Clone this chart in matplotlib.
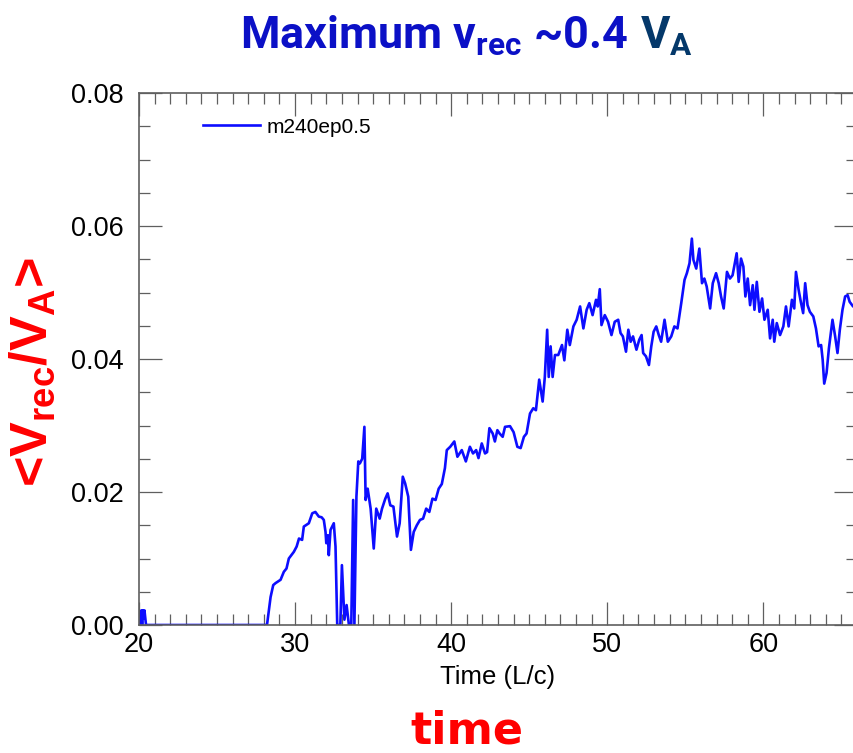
import matplotlib
matplotlib.use("Agg")
import matplotlib.pyplot as plt
from matplotlib.ticker import MultipleLocator, FormatStrFormatter

# tiempo en unidades L/c y velocidad de reconexion media <Vrec/VA>
time_lc = [
    20.0, 20.1, 20.15, 20.2, 20.25, 20.3, 20.35, 20.45, 28.2, 28.43,
    28.6, 28.75, 29.07, 29.28, 29.45, 29.6, 29.92, 30.1, 30.25, 30.45,
    30.56, 30.88, 31.1, 31.3, 31.52, 31.7, 31.84, 31.95, 32.0, 32.1,
    32.16, 32.27, 32.48, 32.59, 32.7, 32.9, 33.0, 33.16, 33.3, 33.45,
    33.6, 33.72, 33.8, 33.93, 34.05, 34.15, 34.3, 34.44, 34.52, 34.65,
    34.84, 35.04, 35.2, 35.42, 35.57, 35.78, 35.93, 36.1, 36.3, 36.53,
    36.7, 36.9, 37.05, 37.25, 37.42, 37.6, 37.8, 38.0, 38.2, 38.4,
    38.6, 38.8, 39.0, 39.2, 39.4, 39.6, 39.72, 39.94, 40.2, 40.4,
    40.68, 40.94, 41.2, 41.4, 41.6, 41.75, 41.96, 42.17, 42.3, 42.45,
    42.66, 42.8, 42.96, 43.1, 43.3, 43.45, 43.77, 44.0, 44.24, 44.45,
    44.66, 44.83, 45.05, 45.26, 45.43, 45.64, 45.86, 46.0, 46.15, 46.25,
    46.37, 46.5, 46.65, 46.86, 47.1, 47.25, 47.44, 47.6, 47.83, 48.04,
    48.26, 48.47, 48.68, 48.85, 49.06, 49.28, 49.39, 49.52, 49.63, 49.84,
    50.05, 50.27, 50.48, 50.7, 50.85, 51.0, 51.2, 51.35, 51.5, 51.65,
    51.87, 52.05, 52.2, 52.3, 52.48, 52.67, 52.82, 52.97, 53.14, 53.3,
    53.45, 53.67, 53.88, 54.1, 54.3, 54.5, 54.74, 54.95, 55.1, 55.27,
    55.42, 55.52, 55.7, 55.9, 56.07, 56.22, 56.37, 56.59, 56.76, 56.97,
    57.14, 57.29, 57.46, 57.67, 57.86, 58.03, 58.29, 58.42, 58.57, 58.72,
    58.85, 59.0, 59.15, 59.32, 59.43, 59.58, 59.75, 59.92, 60.07, 60.28,
    60.43, 60.6, 60.7, 60.86, 61.07, 61.28, 61.45, 61.62, 61.83, 61.98,
    62.09, 62.26, 62.4, 62.55, 62.68, 62.83, 62.98, 63.2, 63.37, 63.54,
    63.7, 63.8, 63.9, 64.05, 64.2, 64.43, 64.6, 64.75, 64.9, 65.07,
    65.24, 65.4, 65.53, 65.75, 66.0,
]
vrec = [
    0.0, 0.0, 0.0022, 0.0, 0.0022, 0.0010, 0.0022, 0.0, 0.0, 0.0042,
    0.0060, 0.0063, 0.0068, 0.0080, 0.0085, 0.0100, 0.0110, 0.0118, 0.0130, 0.0128,
    0.0148, 0.0153, 0.0168, 0.0170, 0.0163, 0.0162, 0.0158, 0.0140, 0.0123, 0.0135,
    0.0105, 0.0143, 0.0153, 0.0118, 0.0, 0.0, 0.0090, 0.0008, 0.0030, 0.0,
    0.0, 0.0188, 0.0, 0.0193, 0.0246, 0.0243, 0.0250, 0.0298, 0.0188, 0.0205,
    0.0175, 0.0115, 0.0175, 0.0160, 0.0175, 0.0190, 0.0198, 0.0180, 0.0178, 0.0133,
    0.0153, 0.0223, 0.0213, 0.0193, 0.0113, 0.0140, 0.0150, 0.0158, 0.0160, 0.0175,
    0.0170, 0.0190, 0.0188, 0.0205, 0.0212, 0.0236, 0.0263, 0.0268, 0.0276, 0.0253,
    0.0263, 0.0246, 0.0268, 0.0258, 0.0263, 0.0251, 0.0273, 0.0258, 0.0260, 0.0296,
    0.0288, 0.0276, 0.0293, 0.0288, 0.0283, 0.0298, 0.0299, 0.0290, 0.0268, 0.0266,
    0.0283, 0.0288, 0.0318, 0.0326, 0.0323, 0.0369, 0.0336, 0.0373, 0.0444, 0.0373,
    0.0419, 0.0373, 0.0406, 0.0406, 0.0421, 0.0398, 0.0444, 0.0421, 0.0449, 0.0459,
    0.0479, 0.0446, 0.0474, 0.0484, 0.0466, 0.0489, 0.0479, 0.0505, 0.0451, 0.0466,
    0.0456, 0.0436, 0.0456, 0.0459, 0.0439, 0.0434, 0.0411, 0.0444, 0.0426, 0.0434,
    0.0414, 0.0429, 0.0436, 0.0409, 0.0404, 0.0391, 0.0419, 0.0441, 0.0449, 0.0436,
    0.0426, 0.0459, 0.0426, 0.0434, 0.0449, 0.0446, 0.0484, 0.0519, 0.0529, 0.0544,
    0.0581, 0.0549, 0.0536, 0.0566, 0.0514, 0.0521, 0.0509, 0.0476, 0.0514, 0.0529,
    0.0514, 0.0494, 0.0476, 0.0531, 0.0521, 0.0526, 0.0559, 0.0516, 0.0551, 0.0539,
    0.0494, 0.0521, 0.0481, 0.0511, 0.0474, 0.0516, 0.0471, 0.0491, 0.0459, 0.0474,
    0.0431, 0.0459, 0.0426, 0.0454, 0.0436, 0.0449, 0.0479, 0.0449, 0.0489, 0.0476,
    0.0531, 0.0504, 0.0486, 0.0469, 0.0514, 0.0481, 0.0471, 0.0464, 0.0446, 0.0419,
    0.0421, 0.0399, 0.0363, 0.0379, 0.0416, 0.0459, 0.0434, 0.0409, 0.0444, 0.0474,
    0.0494, 0.0496, 0.0486, 0.0479, 0.0482,
]
run_label = "m240ep0.5"

W, H = 854, 753
fig = plt.figure(figsize=(W / 100, H / 100), dpi=100)

# el eje se extiende un poco mas alla del borde derecho
ax = fig.add_axes([139 / W, 1 - 625 / H, 718 / W, 532 / H])
ax.plot(time_lc, vrec, color="#0d0dff", lw=1.9, label=run_label)

ax.set_xlim(20, 66)
ax.set_ylim(0, 0.08)
ax.xaxis.set_major_locator(MultipleLocator(10))
ax.xaxis.set_minor_locator(MultipleLocator(1))
ax.yaxis.set_major_locator(MultipleLocator(0.02))
ax.yaxis.set_minor_locator(MultipleLocator(0.005))
ax.yaxis.set_major_formatter(FormatStrFormatter("%.2f"))

gris = "#5f5f5f"
ax.tick_params(which="both", direction="in", top=True, right=True,
               color=gris, width=0.9)
ax.tick_params(which="major", length=16.5)
ax.tick_params(which="minor", length=8)
ax.tick_params(axis="x", pad=5)
ax.tick_params(axis="y", pad=11)
for lab in ax.get_xticklabels() + ax.get_yticklabels():
    lab.set_fontfamily("Liberation Sans")
    lab.set_fontsize(19.5)
for s in ax.spines.values():
    s.set_color(gris)
    s.set_linewidth(1.2)

ax.set_xlabel("Time (L/c)", fontsize=18.5, family="Liberation Sans", labelpad=5)

fs_leg = 15
ax.legend(loc="center left", bbox_to_anchor=(0.089, 0.936), frameon=False,
          prop={"family": "Liberation Sans", "size": fs_leg},
          handlelength=57 / (fs_leg * 1.389), handletextpad=7 / (fs_leg * 1.389),
          borderpad=0, borderaxespad=0)

# titulo en dos partes: la segunda en otro color
renderer = fig.canvas.get_renderer()
titulo = dict(fontweight="bold", family=["Roboto", "DejaVu Sans"], va="baseline")
t1 = fig.text(240 / W, 1 - 49 / H, r"Maximum v$_{\mathregular{rec}}$ ~0.4",
              color="#0b10c6", ha="left", fontsize=31, **titulo)
# ajustar el tamano para que el texto ocupe ~388 px
ancho = t1.get_window_extent(renderer).width
fs_tit = 31 * 388 / ancho
t1.set_fontsize(fs_tit)
x_fin = t1.get_window_extent(renderer).x1
fig.text((x_fin + 12) / W, 1 - 49 / H, r"V$_{\mathregular{A}}$",
         color="#04386a", ha="left", fontsize=fs_tit, **titulo)

fig.text(33 / W, 1 - 372 / H, r"<V$_{\mathregular{rec}}$/V$_{\mathregular{A}}$>",
         rotation=90, color="red", fontsize=37.5, fontweight="bold",
         family="Liberation Sans", ha="center", va="center")

fig.text(467 / W, 1 - 744 / H, "time", color="red", ha="center",
         fontsize=32, fontweight="bold", family="DejaVu Sans", va="baseline")

fig.savefig("out.png", dpi=100)
